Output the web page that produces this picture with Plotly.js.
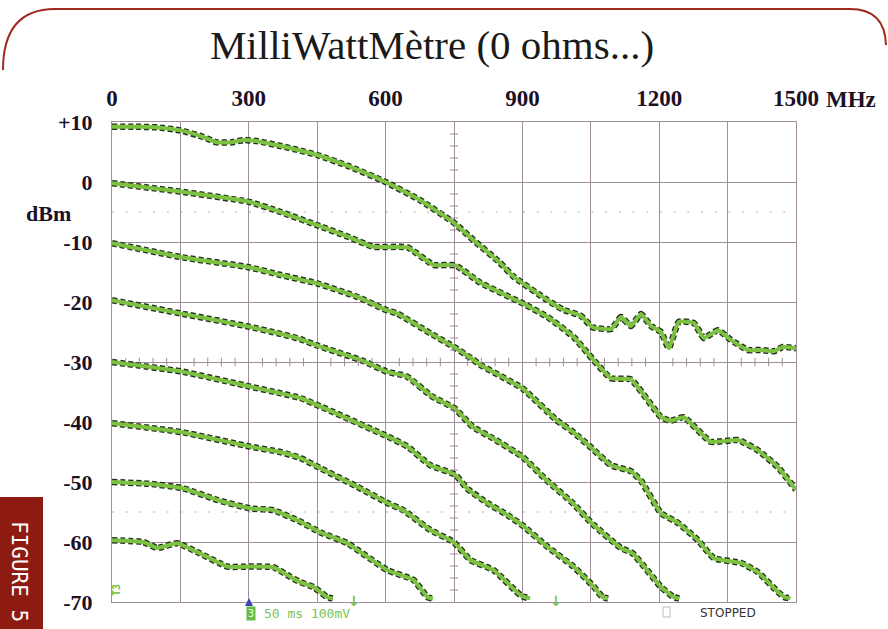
<!DOCTYPE html>
<html><head><meta charset="utf-8">
<script src="https://cdn.plot.ly/plotly-3.0.1.min.js"></script>
<style>html,body{margin:0;padding:0;background:#fff;overflow:hidden;} #chart{width:888px;height:629px;}</style>
</head><body><div id="chart"></div>
<script>
// ---- data (frequency in MHz, level in dBm) ----
const xTickValues = [0,150,300,450,600,750,900,1050,1200,1350,1500];
const xTickLabels = ['0','','300','','600','','900','','1200','','1500'];
const yTickValues = [-70,-60,-50,-40,-30,-20,-10,0,10];
const yTickLabels = ['-70','-60','-50','-40','-30','-20','-10','0','+10'];

const freq1 = [0,60,100,150,200,230,260,290,320,370,410,450,520,600,675,750,793,850,881,955,990,1028,1054,1095,1116,1138,1160,1182,1204,1221,1243,1276,1298,1329,1357,1395,1423,1452,1471,1500];
const level1 = [9.2,9.2,9.1,8.6,7.5,6.6,6.6,7.0,6.8,6.0,5.3,4.5,2.6,0,-3,-6.8,-9.7,-13.4,-15.8,-19.7,-21.3,-22.3,-24.2,-24.5,-22.5,-24,-22,-24,-25,-27.7,-23.3,-23.5,-26,-24.7,-26.3,-28,-28,-28.2,-27.5,-27.7];

const freq2 = [0,150,300,370,450,520,573,648,705,753,808,900,955,1012,1054,1094,1138,1204,1225,1254,1313,1373,1416,1460,1500];
const level2 = [-0.2,-1.6,-3.3,-5,-7.2,-9.2,-10.8,-10.9,-13.8,-13.9,-16.8,-20.2,-22.5,-25.8,-29.5,-32.7,-32.9,-39.2,-39.8,-39.2,-43.3,-43,-44.7,-47.5,-51.3];

const freq3 = [0,150,300,370,450,540,600,625,700,750,790,808,900,975,1010,1050,1094,1138,1160,1204,1241,1285,1320,1380,1416,1460,1475,1488];
const level3 = [-10.2,-12.5,-14.2,-15.5,-16.9,-19.2,-21.3,-21.9,-25.3,-27.5,-29.5,-30.5,-34.4,-39.7,-41.6,-44.2,-47.2,-48.2,-49.8,-55.2,-56.8,-59.7,-62.7,-63.5,-65,-68.3,-69.2,-69.4];

const freq4 = [0,150,300,369,413,452,550,602,646,703,751,791,835,900,953,1010,1054,1116,1142,1204,1232,1244];
const level4 = [-19.7,-21.9,-24.1,-25.3,-26.2,-27.3,-29.8,-31.6,-32.4,-35.8,-37.7,-40.8,-42.7,-45.8,-49.7,-53.5,-57,-61,-61.9,-67.5,-69.2,-69.4];

const freq5 = [0,154,303,369,413,457,604,648,698,753,779,823,867,903,955,1012,1056,1076,1088];
const level5 = [-30,-31.6,-34.1,-35.2,-36,-37.4,-42.4,-44.1,-47.2,-48.8,-51.1,-53.5,-55.5,-57.4,-60.8,-64.1,-67.4,-69.2,-69.4];

const freq6 = [0,154,303,369,413,457,538,604,639,698,749,786,837,896,905,917];
const level6 = [-40.2,-41.7,-44.1,-45,-46,-47.7,-50.8,-53.5,-54.7,-58,-60,-63,-64.7,-68.9,-69.2,-69.4];

const freq7 = [0,81,154,231,303,354,413,457,516,604,661,692,704];
const level7 = [-50,-50.3,-51,-53,-54.4,-54.7,-56.6,-58.4,-60.2,-64.7,-66.3,-69.2,-69.4];

const freq8 = [0,68,99,112,143,193,253,303,354,391,413,442,472,484];
const level8 = [-59.7,-60,-61,-60.8,-60.2,-61.9,-64.1,-64.1,-64.2,-65.8,-66.7,-67.5,-69.2,-69.4];

const seriesX = [freq1,freq2,freq3,freq4,freq5,freq6,freq7,freq8];
const seriesY = [level1,level2,level3,level4,level5,level6,level7,level8];

// ---- styling ----
const GRID = '#a08e9a';
const INK = '#1c1024';
const L = 112, T = 122, W = 684, H = 480;
const px = x => (x - L) / W;
const py = y => (T + H - y) / H;

const traces = [];
seriesX.forEach((xs, i) => {
  traces.push({x: xs, y: seriesY[i], mode: 'lines', hoverinfo: 'skip',
    line: {color: '#24311c', width: 6.5, dash: '5px,3px', shape: 'spline', smoothing: 0.4}});
  traces.push({x: xs, y: seriesY[i], mode: 'lines', hoverinfo: 'skip',
    line: {color: '#7cc142', width: 4, shape: 'spline', smoothing: 0.4}});
});

const shapes = [];
for (let v = -68; v < 10; v += 2) {
  if (v % 10 === 0) continue;
  shapes.push({type: 'line', xref: 'x', yref: 'y', x0: 741, x1: 759, y0: v, y1: v, line: {color: GRID, width: 1}});
}
for (let f = 30; f < 1500; f += 30) {
  if (f % 150 === 0) continue;
  shapes.push({type: 'line', xref: 'x', yref: 'y', x0: f, x1: f, y0: -30.7, y1: -29.3, line: {color: GRID, width: 1}});
}
[-5, -55].forEach(v => shapes.push({type: 'line', xref: 'x', yref: 'y', x0: 0, x1: 1500, y0: v, y1: v,
  line: {color: '#b9aeb6', width: 1.2, dash: '2px,11.7px'}}));
shapes.push({type: 'path', xref: 'paper', yref: 'paper',
  path: `M ${px(3)} ${py(70)} Q ${px(3)} ${py(9)} ${px(55)} ${py(9)} L ${px(850)} ${py(9)} Q ${px(885)} ${py(9)} ${px(886)} ${py(45)}`,
  line: {color: '#9e2a1e', width: 2}});
shapes.push({type: 'rect', xref: 'paper', yref: 'paper', x0: px(0), x1: px(43), y0: py(640), y1: py(497),
  fillcolor: '#8e1b12', line: {width: 0}});
shapes.push({type: 'path', xref: 'paper', yref: 'paper',
  path: `M ${px(245)} ${py(606)} L ${px(253)} ${py(606)} L ${px(249)} ${py(598)} Z`,
  fillcolor: '#3a44b0', line: {width: 0}});
shapes.push({type: 'rect', xref: 'paper', yref: 'paper', x0: px(663), x1: px(670), y0: py(617), y1: py(607),
  line: {color: '#bdbdbd', width: 1}});

function note(text, x, y, font, extra) {
  return Object.assign({text: text, x: px(x), y: py(y), xref: 'paper', yref: 'paper', showarrow: false,
    xanchor: 'center', yanchor: 'middle', font: font}, extra || {});
}
const annotations = [
  note('dBm', 48, 213, {family: 'Liberation Serif', size: 22, color: INK, weight: 'bold'}),
  note('MHz', 851, 100, {family: 'Liberation Serif', size: 23, color: INK, weight: 'bold'}),
  note('FIGURE 5', 19, 571, {family: 'DejaVu Sans Mono', size: 21, color: '#ffffff'}, {textangle: 90}),
  note('T3', 116, 590, {family: 'DejaVu Sans Mono', size: 10, color: '#6cbf3a', weight: 'bold'}, {textangle: -90}),
  note('3', 251, 613, {family: 'DejaVu Sans Mono', size: 10, color: '#e8ffe0'}, {bgcolor: '#66bb44', borderpad: 1}),
  note('50 ms 100mV', 262, 613, {family: 'DejaVu Sans Mono', size: 13, color: '#7dc25a'}, {xanchor: 'left'}),
  note('↓', 354, 601, {family: 'DejaVu Sans', size: 14, color: '#7dc242', weight: 'bold'}),
  note('↓', 556, 601, {family: 'DejaVu Sans', size: 14, color: '#7dc242', weight: 'bold'}),
  note('STOPPED', 728, 613, {family: 'DejaVu Sans', size: 12, color: '#333333'})
];

const layout = {
  width: 888, height: 629,
  margin: {l: L, r: 888 - L - W, t: T, b: 629 - T - H, pad: 0},
  paper_bgcolor: '#ffffff', plot_bgcolor: '#ffffff',
  showlegend: false,
  title: {text: 'MilliWattMètre (0 ohms...)', x: 0.4865, xref: 'container', xanchor: 'center',
    y: 1 - 45/629, yref: 'container', yanchor: 'middle',
    font: {family: 'Liberation Serif', size: 41, color: '#1a1a1a'}},
  xaxis: {side: 'top', range: [0, 1500], tickmode: 'array', tickvals: xTickValues, ticktext: xTickLabels,
    showgrid: true, gridcolor: GRID, gridwidth: 1, zeroline: false, showline: true, mirror: true,
    linecolor: GRID, linewidth: 1, ticks: '', ticklabelstandoff: 6,
    tickfont: {family: 'Liberation Serif', size: 23, color: INK, weight: 'bold'}, fixedrange: true},
  yaxis: {range: [-70, 10], tickmode: 'array', tickvals: yTickValues, ticktext: yTickLabels,
    showgrid: true, gridcolor: GRID, gridwidth: 1, zeroline: false, showline: true, mirror: true,
    linecolor: GRID, linewidth: 1, ticks: '', ticklabelstandoff: 14,
    tickfont: {family: 'Liberation Serif', size: 22, color: INK, weight: 'bold'}, fixedrange: true},
  shapes: shapes,
  annotations: annotations
};

Plotly.newPlot('chart', traces, layout, {staticPlot: true, displayModeBar: false});
</script>
</body></html>
